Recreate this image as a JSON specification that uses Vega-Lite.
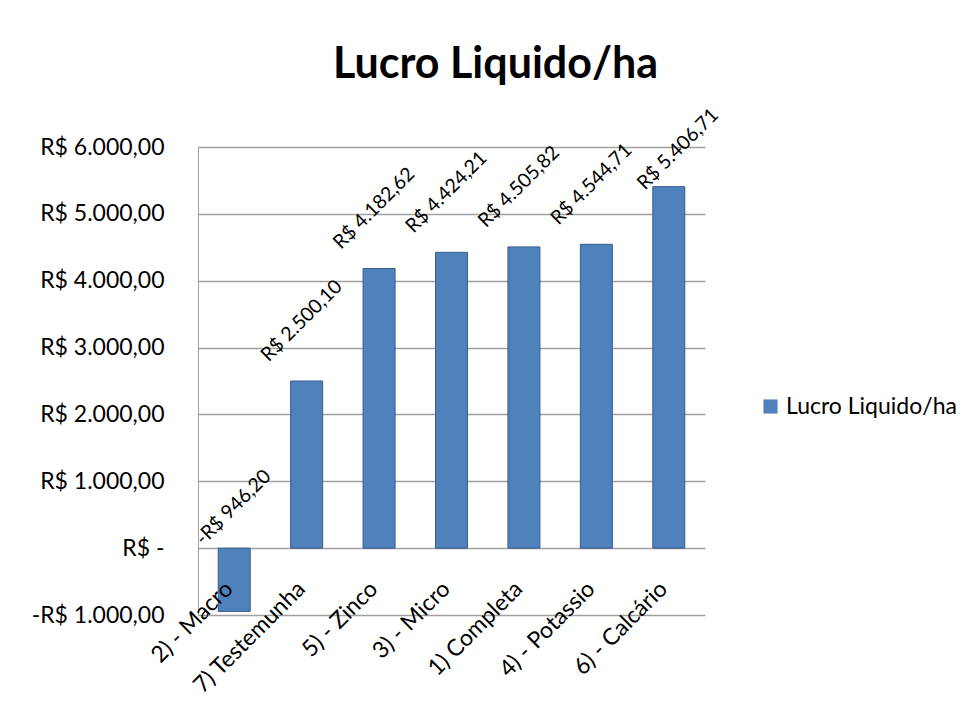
{
  "$schema": "https://vega.github.io/schema/vega-lite/v6.json",
  "autosize": {"type": "none"},
  "width": 507,
  "height": 468,
  "padding": {"left": 198, "top": 147, "right": 265, "bottom": 98},
  "background": "white",
  "config": {
    "font": "Lato",
    "view": {"stroke": null},
    "locale": {"number": {"decimal": ",", "thousands": ".", "grouping": [3], "currency": ["R$ ", ""], "minus": "-"}}
  },
  "title": {"text": "Lucro Liquido/ha", "fontSize": 43, "fontWeight": "bold", "color": "black", "anchor": "middle", "offset": 18, "dx": 44, "font": "Lato"},
  "data": {"values": [
    {"trat": "2) - Macro", "value": -946.20, "serie": "Lucro Liquido/ha"},
    {"trat": "7) Testemunha", "value": 2500.10, "serie": "Lucro Liquido/ha"},
    {"trat": "5) - Zinco", "value": 4182.62, "serie": "Lucro Liquido/ha"},
    {"trat": "3) - Micro", "value": 4424.21, "serie": "Lucro Liquido/ha"},
    {"trat": "1) Completa", "value": 4505.82, "serie": "Lucro Liquido/ha"},
    {"trat": "4) - Potassio", "value": 4544.71, "serie": "Lucro Liquido/ha"},
    {"trat": "6) - Calcário", "value": 5406.71, "serie": "Lucro Liquido/ha"}
  ]},
  "encoding": {
    "x": {"field": "trat", "type": "nominal", "sort": null,
      "axis": {"title": null, "labelAngle": -45, "labelAlign": "right", "labelBaseline": "middle", "labelFontSize": 23, "labelColor": "black", "domain": false, "ticks": false, "labelPadding": -30, "labelOffset": -5, "labelFont": "Lato", "zindex": 1}},
    "y": {"field": "value", "type": "quantitative",
      "scale": {"domain": [-1000, 6000], "nice": false},
      "axis": {"title": null, "values": [-1000, 0, 1000, 2000, 3000, 4000, 5000, 6000], "labelExpr": "datum.value == 0 ? 'R$ -' : format(datum.value, '$,.2f')", "labelFontSize": 23, "labelColor": "black", "domain": true, "domainColor": "#a0a0a0", "ticks": false, "labelPadding": 34, "gridColor": "#a0a0a0", "gridWidth": 1.5, "labelFont": "Lato"}}
  },
  "layer": [
    {
      "mark": {"type": "bar", "size": 32, "stroke": "#385D8A", "strokeWidth": 1},
      "encoding": {
        "color": {"field": "serie", "type": "nominal", "scale": {"range": ["#4F81BD"]},
          "legend": {"title": null, "orient": "none", "legendX": 561, "legendY": 248, "symbolType": "square", "symbolSize": 200, "labelFontSize": 23, "labelLimit": 400, "labelColor": "black", "labelFont": "Lato", "symbolStrokeWidth": 0}}
      }
    },
    {
      "transform": [{"filter": "datum.value >= 0 && datum.value < 5000"}],
      "mark": {"type": "text", "angle": -45, "align": "center", "baseline": "middle", "fontSize": 19.5, "dx": 39, "dy": -46, "color": "black"},
      "encoding": {"text": {"field": "value", "type": "quantitative", "format": "$,.2f"}}
    },
    {
      "transform": [{"filter": "datum.value >= 5000"}],
      "mark": {"type": "text", "angle": -45, "align": "center", "baseline": "middle", "fontSize": 19.5, "dx": 33, "dy": -20, "color": "black"},
      "encoding": {"text": {"field": "value", "type": "quantitative", "format": "$,.2f"}}
    },
    {
      "transform": [{"filter": "datum.value < 0"}],
      "mark": {"type": "text", "angle": -45, "align": "center", "baseline": "middle", "fontSize": 19.5, "dx": 73, "dy": -74, "color": "black"},
      "encoding": {"text": {"field": "value", "type": "quantitative", "format": "$,.2f"}}
    }
  ]
}
